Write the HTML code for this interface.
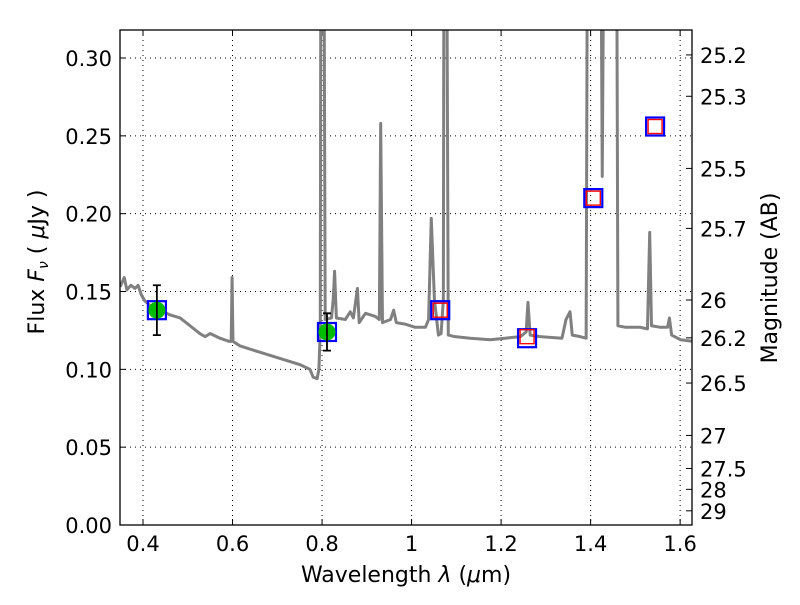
<!DOCTYPE html>
<html><head><meta charset="utf-8"><style>
body{margin:0;background:#fff}
svg text{font-family:"DejaVu Sans","Liberation Sans",sans-serif;fill:#000}
</style></head><body>
<svg id="chart" width="800" height="600" xmlns="http://www.w3.org/2000/svg"></svg>
<script>
const specLam=[0.349,0.358,0.364,0.373,0.382,0.389,0.396,0.404,0.416,0.438,0.460,0.483,0.505,0.527,0.539,0.550,0.572,0.592,0.597,0.599,0.601,0.617,0.661,0.706,0.751,0.773,0.780,0.789,0.793,0.796,0.798,0.803,0.807,0.821,0.825,0.828,0.832,0.852,0.863,0.870,0.879,0.883,0.897,0.919,0.928,0.931,0.935,0.953,0.960,0.966,0.986,1.008,1.031,1.038,1.044,1.051,1.060,1.066,1.071,1.073,1.077,1.082,1.097,1.131,1.176,1.209,1.243,1.256,1.260,1.265,1.287,1.336,1.345,1.354,1.359,1.377,1.390,1.394,1.421,1.426,1.432,1.457,1.461,1.478,1.511,1.527,1.532,1.536,1.556,1.572,1.576,1.581,1.601,1.627];
const specFlux=[0.153,0.159,0.151,0.154,0.152,0.154,0.148,0.144,0.141,0.138,0.135,0.133,0.128,0.123,0.121,0.123,0.120,0.118,0.118,0.159,0.118,0.115,0.111,0.107,0.103,0.100,0.095,0.094,0.100,0.125,0.5,0.5,0.132,0.133,0.145,0.163,0.133,0.132,0.137,0.133,0.152,0.130,0.136,0.134,0.132,0.258,0.130,0.132,0.138,0.130,0.129,0.127,0.127,0.132,0.197,0.145,0.122,0.123,0.145,0.5,0.5,0.122,0.121,0.120,0.119,0.120,0.121,0.124,0.143,0.122,0.121,0.120,0.132,0.137,0.122,0.121,0.120,0.5,0.5,0.224,0.5,0.5,0.128,0.127,0.127,0.126,0.188,0.128,0.127,0.127,0.133,0.122,0.119,0.118];
const obsLam=[0.431,0.811];
const obsFlux=[0.138,0.124];
const obsErr=[0.016,0.012];
const bandLam=[0.431,0.811,1.064,1.258,1.406,1.544];
const bandFlux=[0.138,0.124,0.138,0.120,0.210,0.256];
const modelLam=[1.064,1.258,1.406,1.544];
const modelFlux=[0.138,0.121,0.210,0.256];
const xTicks=[0.4,0.6,0.8,1.0,1.2,1.4,1.6];
const xTickLabels=["0.4","0.6","0.8","1","1.2","1.4","1.6"];
const yTicks=[0,0.05,0.10,0.15,0.20,0.25,0.30];
const yTickLabels=["0.00","0.05","0.10","0.15","0.20","0.25","0.30"];
const magTicks=[25.2,25.3,25.5,25.7,26,26.2,26.5,27,27.5,28,29];

const L=120,R=692,T=30,B=525;
const xmin=0.3486,xmax=1.6265,ymin=0,ymax=0.318;
const X=v=>L+(v-xmin)/(xmax-xmin)*(R-L);
const Y=v=>B-(v-ymin)/(ymax-ymin)*(B-T);
const svg=document.getElementById('chart');
const NS='http://www.w3.org/2000/svg';
function mk(tag,attrs,parent){const e=document.createElementNS(NS,tag);for(const k in attrs)e.setAttribute(k,attrs[k]);(parent||svg).appendChild(e);return e;}

const defs=mk('defs',{});
const cp=mk('clipPath',{id:'clip'},defs);
mk('rect',{x:L,y:T,width:R-L,height:B-T},cp);

xTicks.forEach((t,i)=>{
  const g=mk('line',{x1:X(t),x2:X(t),y1:T,y2:B,stroke:'#000','stroke-width':1,'stroke-dasharray':'1,4'});
  
  
  mk('line',{x1:X(t),x2:X(t),y1:B,y2:B-6,stroke:'#000'});
  mk('line',{x1:X(t),x2:X(t),y1:T,y2:T+6,stroke:'#000'});
  const tx=mk('text',{x:X(t),y:B+26,'text-anchor':'middle','font-size':21});
  tx.textContent=xTickLabels[i];
  
  
});
yTicks.forEach((t,i)=>{
  const g=mk('line',{x1:L,x2:R,y1:Y(t),y2:Y(t),stroke:'#000','stroke-width':1,'stroke-dasharray':'1,4'});
  
  
  mk('line',{x1:L,x2:L+6,y1:Y(t),y2:Y(t),stroke:'#000'});
  const tx=mk('text',{x:L-8,y:Y(t)+8,'text-anchor':'end','font-size':21});
  tx.textContent=yTickLabels[i];
  
  
});
magTicks.forEach(m=>{
  const f=Math.pow(10,(23.9-m)/2.5);
  mk('line',{x1:R,x2:R-6,y1:Y(f),y2:Y(f),stroke:'#000'});
  const tx=mk('text',{x:R+8,y:Y(f)+8,'font-size':21});
  tx.textContent=String(m);
  
  
});

const g=mk('g',{'clip-path':'url(#clip)'});
const sp=mk('polyline',{points:specLam.map((l,i)=>X(l)+','+Y(specFlux[i])).join(' '),fill:'none',stroke:'#808080','stroke-width':3,'stroke-linejoin':'round'},g);



bandLam.forEach((l,i)=>{
  const r=mk('rect',{x:X(l)-9,y:Y(bandFlux[i])-9,width:18,height:18,fill:'none',stroke:'#0000ff','stroke-width':2.2},g);
  
  
});
modelLam.forEach((l,i)=>{
  const r=mk('rect',{x:X(l)-7,y:Y(modelFlux[i])-7,width:14,height:14,fill:'none',stroke:'#ff0000','stroke-width':1.4},g);
  
  
});
obsLam.forEach((l,i)=>{
  const x=X(l),y1=Y(obsFlux[i]+obsErr[i]),y2=Y(obsFlux[i]-obsErr[i]);
  const c=mk('circle',{cx:x,cy:Y(obsFlux[i]),r:8.5,fill:'#00bb00'},g);
  
  
  const e=mk('path',{d:`M${x},${y1}V${y2}M${x-4},${y1}H${x+4}M${x-4},${y2}H${x+4}`,stroke:'#000','stroke-width':1.8,fill:'none'},g);
  
  
});

const fr=mk('rect',{x:L,y:T,width:R-L,height:B-T,fill:'none',stroke:'#000','stroke-width':1.3});



const xl=mk('text',{x:406,y:582,'text-anchor':'middle','font-size':22});
xl.innerHTML='Wavelength  <tspan font-style="italic">λ</tspan> (<tspan font-style="italic">μ</tspan>m)';
xl.setAttribute('xml:space','preserve');


const yl=mk('text',{x:0,y:0,'text-anchor':'middle','font-size':22,transform:'translate(44,262) rotate(-90)'});
yl.innerHTML='Flux  <tspan font-style="italic">F</tspan><tspan font-style="italic" font-size="14" dy="4">ν</tspan><tspan dy="-4">  ( </tspan><tspan font-style="italic">μ</tspan>Jy )';
yl.setAttribute('xml:space','preserve');


const yr=mk('text',{x:0,y:0,'text-anchor':'middle','font-size':22,transform:'translate(777,278) rotate(-90)'});
yr.textContent='Magnitude (AB)';


</script>
</body></html>
